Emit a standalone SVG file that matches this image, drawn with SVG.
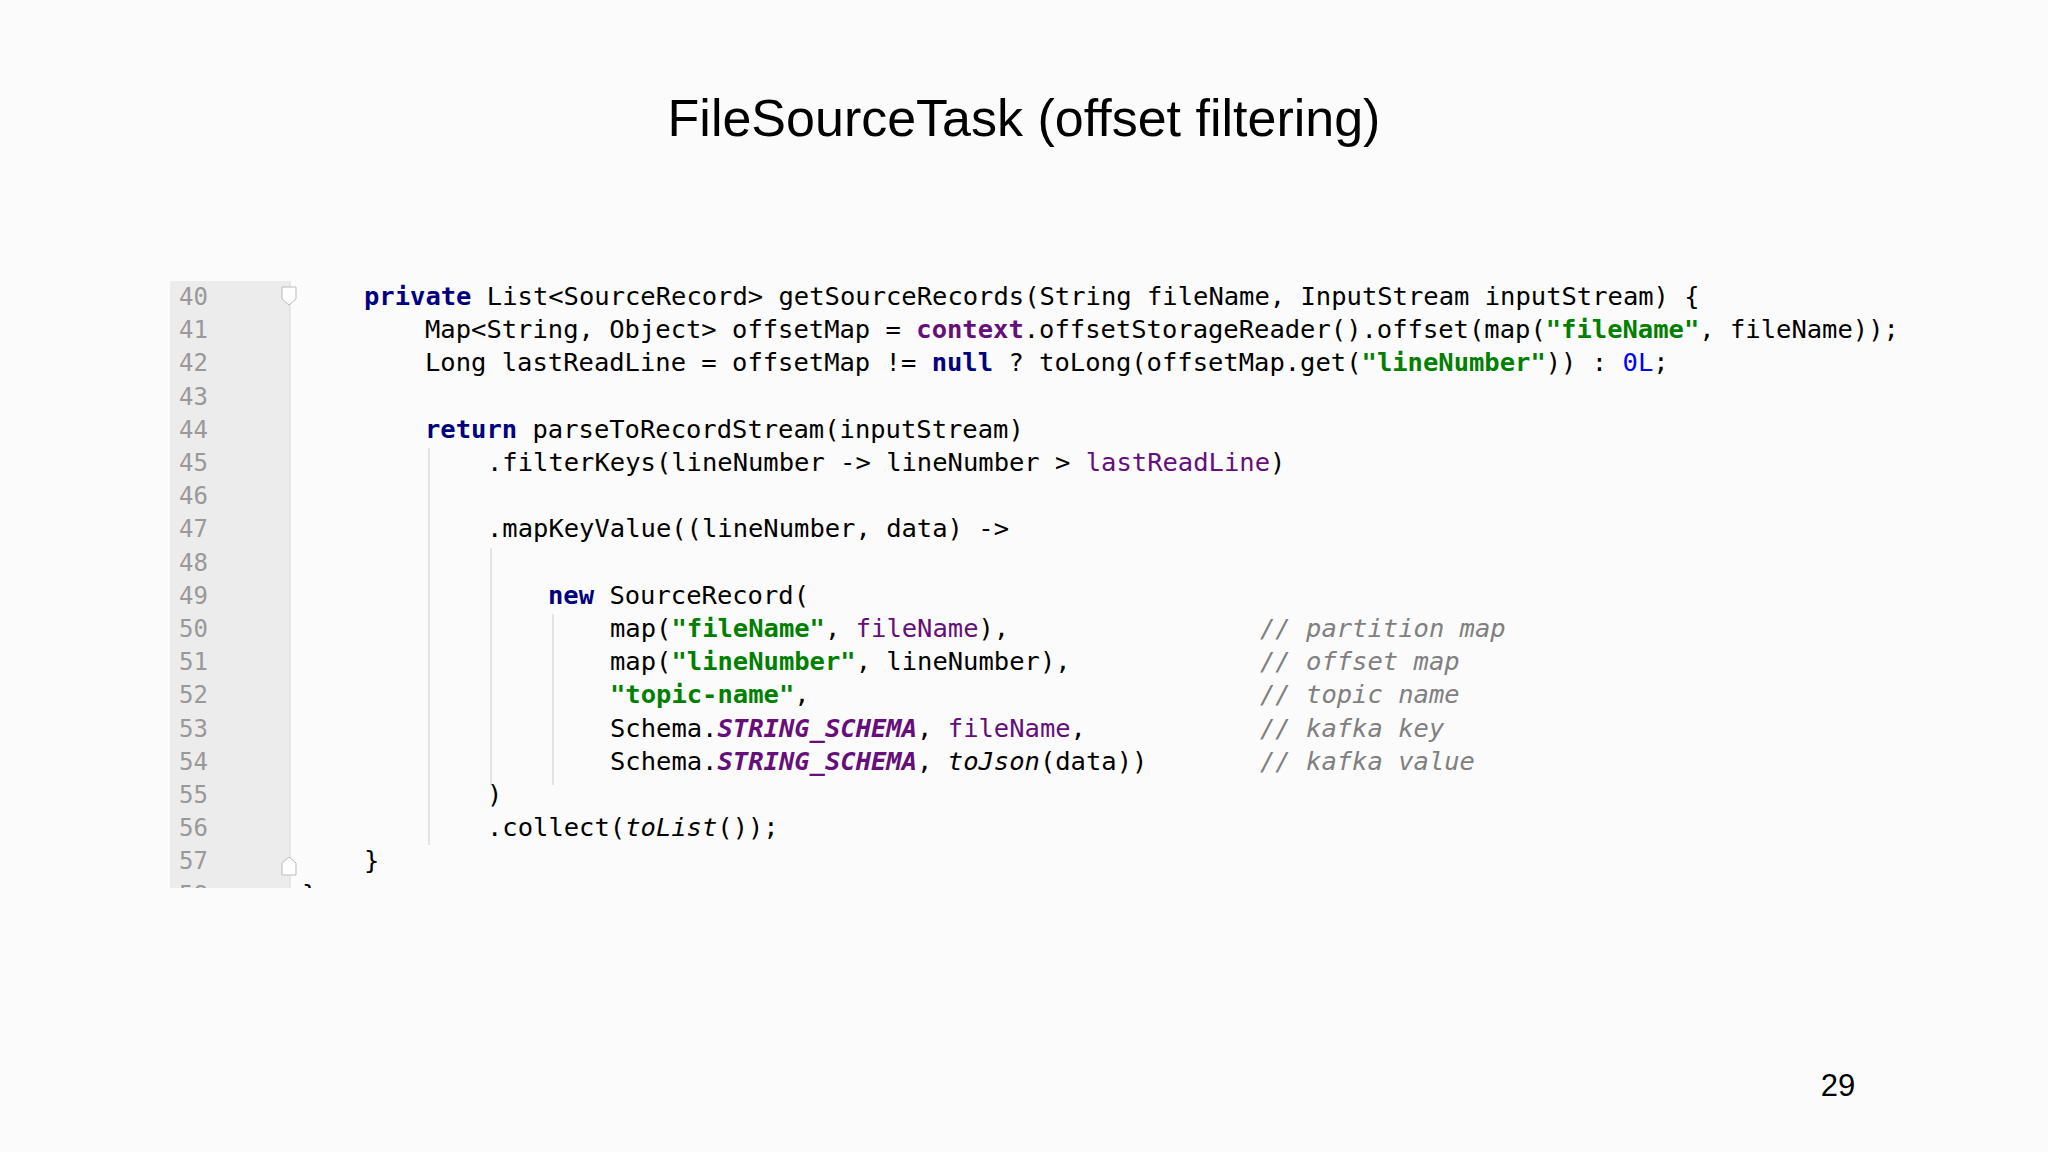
<svg xmlns="http://www.w3.org/2000/svg" width="2048" height="1152" viewBox="0 0 2048 1152">
<style>
.t{font-family:"Liberation Sans",Arial,sans-serif;fill:#000}
.c{font-family:"DejaVu Sans Mono","Liberation Mono",monospace;font-size:25.5px;fill:#000;white-space:pre}
.n{font-family:"DejaVu Sans Mono","Liberation Mono",monospace;font-size:24px;fill:#999}
.k{fill:#000080;font-weight:bold}
.s{fill:#008000;font-weight:bold}
.p{fill:#660e7a}
.pb{fill:#660e7a;font-weight:bold}
.pi{fill:#660e7a;font-weight:bold;font-style:italic}
.i{font-style:italic}
.m{fill:#808080;font-style:italic}
.b{fill:#0000ff}
.g{stroke:#ddd;stroke-width:1.5}
</style>
<defs><clipPath id="cp"><rect x="0" y="281" width="2048" height="607"/></clipPath></defs>
<rect width="2048" height="1152" fill="#fbfbfb"/>
<text class="t" x="1024" y="136" font-size="52" text-anchor="middle">FileSourceTask (offset filtering)</text>
<g id="code" clip-path="url(#cp)">
<rect x="170" y="281" width="120" height="607" fill="#ececec"/>
<line x1="290" y1="281" x2="290" y2="888" stroke="#d8d8d8"/>
<line class="g" x1="429" y1="448" x2="429" y2="845"/>
<line class="g" x1="491" y1="548" x2="491" y2="785"/>
<line class="g" x1="553" y1="614" x2="553" y2="785"/>
<path d="M282 287h14v12l-7 6l-7-6z" fill="#fff" stroke="#bbb"/>
<path d="M282 863l7-6l7 6v12h-14z" fill="#fff" stroke="#bbb"/>
<g class="n">
<text x="179" y="305">40</text><text x="179" y="338">41</text><text x="179" y="371">42</text><text x="179" y="405">43</text><text x="179" y="438">44</text><text x="179" y="471">45</text><text x="179" y="504">46</text><text x="179" y="537">47</text><text x="179" y="571">48</text><text x="179" y="604">49</text><text x="179" y="637">50</text><text x="179" y="670">51</text><text x="179" y="703">52</text><text x="179" y="737">53</text><text x="179" y="770">54</text><text x="179" y="803">55</text><text x="179" y="836">56</text><text x="179" y="869">57</text><text x="179" y="903">58</text>
</g>
<text class="c" x="364" y="305"><tspan class="k">private</tspan> List&lt;SourceRecord&gt; getSourceRecords(String fileName, InputStream inputStream) {</text>
<text class="c" x="425" y="338">Map&lt;String, Object&gt; offsetMap = <tspan class="pb">context</tspan>.offsetStorageReader().offset(map(<tspan class="s">"fileName"</tspan>, fileName));</text>
<text class="c" x="425" y="371">Long lastReadLine = offsetMap != <tspan class="k">null</tspan> ? toLong(offsetMap.get(<tspan class="s">"lineNumber"</tspan>)) : <tspan class="b">0L</tspan>;</text>
<text class="c" x="425" y="438"><tspan class="k">return</tspan> parseToRecordStream(inputStream)</text>
<text class="c" x="487" y="471">.filterKeys(lineNumber -&gt; lineNumber &gt; <tspan class="p">lastReadLine</tspan>)</text>
<text class="c" x="487" y="537">.mapKeyValue((lineNumber, data) -&gt;</text>
<text class="c" x="548" y="604"><tspan class="k">new</tspan> SourceRecord(</text>
<text class="c" x="610" y="637">map(<tspan class="s">"fileName"</tspan>, <tspan class="p">fileName</tspan>),</text>
<text class="c" x="610" y="670">map(<tspan class="s">"lineNumber"</tspan>, lineNumber),</text>
<text class="c" x="610" y="703"><tspan class="s">"topic-name"</tspan>,</text>
<text class="c" x="610" y="737">Schema.<tspan class="pi">STRING_SCHEMA</tspan>, <tspan class="p">fileName</tspan>,</text>
<text class="c" x="610" y="770">Schema.<tspan class="pi">STRING_SCHEMA</tspan>, <tspan class="i">toJson</tspan>(data))</text>
<text class="c m" x="1260" y="637">// partition map</text>
<text class="c m" x="1260" y="670">// offset map</text>
<text class="c m" x="1260" y="703">// topic name</text>
<text class="c m" x="1260" y="737">// kafka key</text>
<text class="c m" x="1260" y="770">// kafka value</text>
<text class="c" x="487" y="803">)</text>
<text class="c" x="487" y="836">.collect(<tspan class="i">toList</tspan>());</text>
<text class="c" x="364" y="869">}</text>
<text class="c" x="302" y="903">}</text>
</g>
<text class="t" x="1838" y="1096" font-size="31" text-anchor="middle">29</text>
</svg>
